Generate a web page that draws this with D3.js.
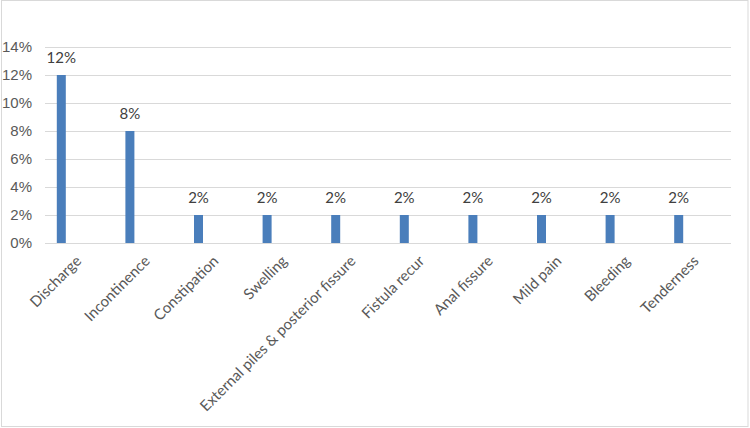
<!DOCTYPE html>
<html lang="en">
<head>
<meta charset="UTF-8">
<title>Complications</title>
<script src="https://d3js.org/d3.v7.min.js"></script>
<style>
    body { margin: 0; background: #fff; }
    svg { font-family: Lato, "Open Sans", sans-serif; }
    .axis text { fill: #595959; font-size: 15px; }
    .lbl { fill: #404040; font-size: 15px; }
</style>
</head>
<body>
<svg id="chart" width="750" height="428"></svg>
<script>
    // chart values
    let categories = ["Discharge", "Incontinence", "Constipation", "Swelling",
        "External piles & posterior fissure", "Fistula recur", "Anal fissure",
        "Mild pain", "Bleeding", "Tenderness"];
    let values = [12, 8, 2, 2, 2, 2, 2, 2, 2, 2];
    let yTicks = [0, 2, 4, 6, 8, 10, 12, 14];

    let svg = d3.select('#chart');

    // outer border
    svg.append('rect')
        .attr('x', 1.5).attr('y', 0.5)
        .attr('width', 746.5).attr('height', 426)
        .attr('fill', 'none').attr('stroke', '#d9d9d9');

    let xscale = d3.scaleBand().domain(categories).range([45, 731]);
    let yscale = d3.scaleLinear().domain([0, 14]).range([243, 47]);

    // gridlines
    svg.append('g').selectAll('line')
        .data(yTicks)
        .enter()
        .append('line')
        .attr('x1', 45).attr('x2', 731)
        .attr('y1', d => Math.round(yscale(d)) + 0.5)
        .attr('y2', d => Math.round(yscale(d)) + 0.5)
        .attr('stroke', '#d9d9d9');

    // y axis labels
    let yAxis = svg.append('g').attr('class', 'axis')
        .attr('transform', 'translate(45,0)')
        .call(d3.axisLeft(yscale).tickValues(yTicks).tickFormat(d => d + '%').tickSize(0).tickPadding(13));
    yAxis.select('.domain').remove();

    // bars sit left of the category centre (empty second series in the cluster)
    let barW = 9;
    let barShift = -18;
    let barX = i => xscale(categories[i]) + xscale.bandwidth() / 2 + barShift;

    svg.append('g').selectAll('rect')
        .data(values)
        .enter()
        .append('rect')
        .attr('x', (d, i) => barX(i) - barW / 2)
        .attr('y', d => yscale(d))
        .attr('width', barW)
        .attr('height', d => yscale(0) - yscale(d))
        .attr('fill', '#4a7ebb');

    // value labels
    svg.append('g').selectAll('text')
        .data(values)
        .enter()
        .append('text')
        .attr('class', 'lbl')
        .attr('x', (d, i) => barX(i))
        .attr('y', d => yscale(d) - 12)
        .attr('text-anchor', 'middle')
        .text(d => d + '%');

    // x axis line
    svg.append('line')
        .attr('x1', 45).attr('x2', 731)
        .attr('y1', 243.5).attr('y2', 243.5)
        .attr('stroke', '#d9d9d9');

    // rotated category labels
    svg.append('g').attr('class', 'axis').selectAll('text')
        .data(categories)
        .enter()
        .append('text')
        .attr('text-anchor', 'end')
        .attr('transform', d => `translate(${xscale(d) + xscale.bandwidth() / 2 + 3},262) rotate(-45)`)
        .text(d => d);
</script>
</body>
</html>
